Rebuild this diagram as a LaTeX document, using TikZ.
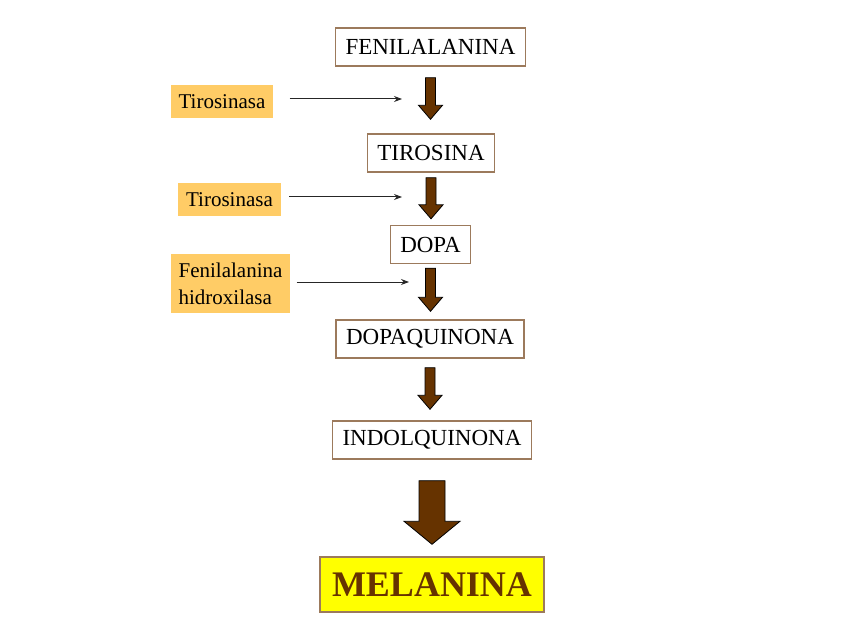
\documentclass[tikz,border=0pt]{standalone}
\usepackage{fontspec}
\setmainfont{Liberation Serif}
\usepackage{tikz}
\usetikzlibrary{calc, arrows.meta}
\definecolor{cafe}{HTML}{663300}
\definecolor{borde}{HTML}{9C7A5C}
\definecolor{naranja}{HTML}{FFCC66}
\definecolor{amarillo}{HTML}{FFFF00}

\tikzset{
  paso/.style={draw=borde, line width=1.4pt, fill=white, inner xsep=10pt,
    minimum height=38pt, font=\fontsize{23}{27}\selectfont},
  melan/.style={draw=borde, line width=1.4pt, fill=amarillo, inner xsep=12pt,
    minimum height=55pt, text=cafe, font=\fontsize{36}{40}\selectfont\bfseries},
  enzima/.style={fill=naranja, inner xsep=8pt, minimum height=33pt, align=left,
    font=\fontsize{21}{27}\selectfont},
  flechita/.style={-{Stealth[length=8pt,width=6pt]}, line width=1pt, black!85},
  bloque/.style={draw=black, line width=0.8pt, fill=cafe}
}

% block arrow from the bottom of #1 to the top of #2, gaps #3 and #4
\newcommand{\flecha}[4]{%
  \path[bloque] let \p1=($(#1.south)+(0,#3)$), \p2=($(#2.north)+(0,-#4)$) in
    (\x1-\ancho,\y1) -- (\x1+\ancho,\y1) -- (\x1+\ancho,\y2+\largo)
    -- (\x1+\cabeza,\y2+\largo) -- (\x1,\y2) -- (\x1-\cabeza,\y2+\largo)
    -- (\x1-\ancho,\y2+\largo) -- cycle;}

\begin{document}
\begin{tikzpicture}[x=1pt, y=-1pt]
  \useasboundingbox (0,0) rectangle (848,636);

  % pasos
  \node[paso] (fen)   at (430.5,47)  {FENILALANINA};
  \node[paso] (tir)   at (431,153)   {TIROSINA};
  \node[paso] (dopa)  at (430.5,244.5) {DOPA};
  \node[paso] (dopaq) at (430,339)   {DOPAQUINONA};
  \node[paso] (indol) at (432,440)   {INDOLQUINONA};
  \node[melan] (mel)  at (432,584.5) {MELANINA};

  % enzimas
  \node[enzima] (tirasa1) at (222,101.5) {Tirosinasa};
  \node[enzima] (tirasa2) at (229.5,200) {Tirosinasa};
  \node[enzima, minimum height=59pt] (hidrox) at (230.5,283.5) {Fenilalanina\\hidroxilasa};

  \coordinate (p1) at (402,99);
  \coordinate (p2) at (402,197);
  \coordinate (p3) at (409,282);
  \draw[flechita, shorten <=16pt] (tirasa1.east |- p1) -- (p1);
  \draw[flechita, shorten <=8pt]  (tirasa2.east |- p2) -- (p2);
  \draw[flechita, shorten <=6pt]  (hidrox.east |- p3) -- (p3);

  % flechas
  \def\ancho{5pt}\def\cabeza{12pt}\def\largo{14pt}
  \flecha{fen}{tir}{11}{14}
  \flecha{tir}{dopa}{5}{6}
  \flecha{dopa}{dopaq}{4}{8}
  \flecha{dopaq}{indol}{9}{11}
  \def\ancho{13pt}\def\cabeza{28pt}\def\largo{23pt}
  \flecha{indol}{mel}{21}{12}
\end{tikzpicture}
\end{document}
